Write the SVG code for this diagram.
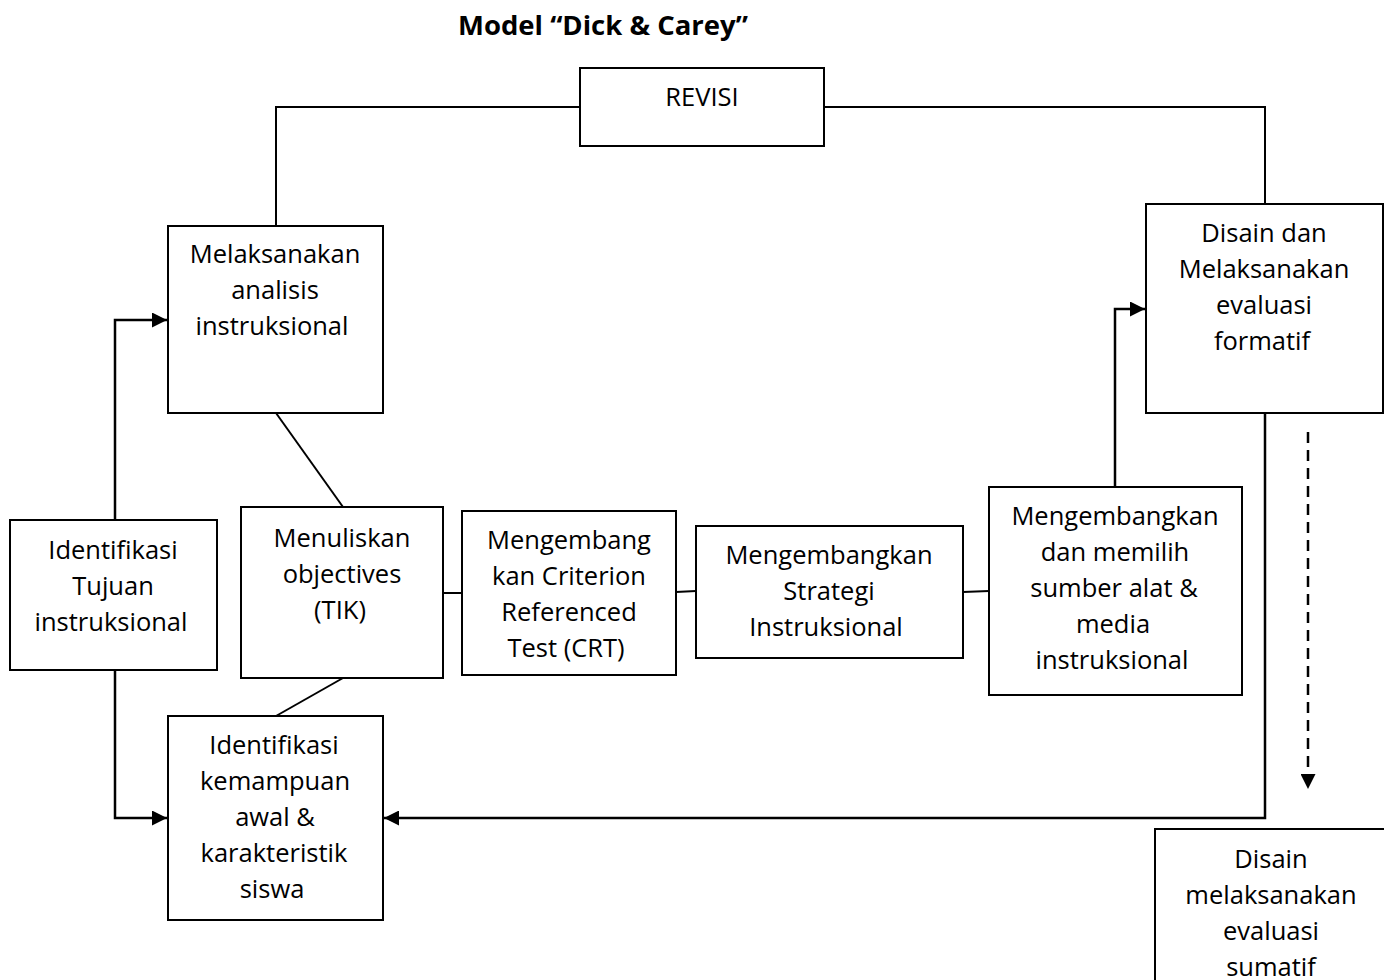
<svg xmlns="http://www.w3.org/2000/svg" width="1384" height="980" viewBox="0 0 1384 980">
  <style>
    .box { fill: #ffffff; stroke: #000000; stroke-width: 2; }
    .lbl { font-family: "Open Sans", "Liberation Sans", sans-serif; font-size: 25.5px; fill: #000000; text-anchor: middle; }
    .title { font-family: "Open Sans", "Liberation Sans", sans-serif; font-size: 27.5px; font-weight: bold; fill: #000000; text-anchor: middle; }
    .ln { fill: none; stroke: #000000; stroke-width: 2; }
    .arr { fill: none; stroke: #000000; stroke-width: 2.5; }
    .dash { fill: none; stroke: #000000; stroke-width: 2.5; stroke-dasharray: 11 7; }
  </style>
  <defs>
    <marker id="head" viewBox="0 0 10 10" refX="10" refY="5" markerWidth="6" markerHeight="6" markerUnits="strokeWidth" orient="auto">
      <path d="M0,0 L10,5 L0,10 Z" fill="#000000"/>
    </marker>
  </defs>

  <text class="title" x="603" y="35">Model “Dick &amp; Carey”</text>

  <!-- connectors -->
  <g id="connectors">
    <polyline class="ln" points="580,107 276,107 276,226"/>
    <polyline class="ln" points="824,107 1265,107 1265,204"/>
    <line class="ln" x1="276" y1="413" x2="343" y2="507"/>
    <line class="ln" x1="343" y1="678" x2="276" y2="716"/>
    <line class="ln" x1="443" y1="593" x2="462" y2="593"/>
    <line class="ln" x1="676" y1="592" x2="696" y2="591"/>
    <line class="ln" x1="963" y1="592" x2="989" y2="591"/>
    <polyline class="arr" points="115,520 115,320 167,320" marker-end="url(#head)"/>
    <polyline class="arr" points="115,670 115,818 167,818" marker-end="url(#head)"/>
    <polyline class="arr" points="1115,487 1115,309 1145,309" marker-end="url(#head)"/>
    <polyline class="arr" points="1265,413 1265,818 384,818" marker-end="url(#head)"/>
    <line class="dash" x1="1308" y1="432" x2="1308" y2="789" marker-end="url(#head)"/>
  </g>

  <g id="revisi">
    <rect class="box" x="580" y="68" width="244" height="78"/>
    <text class="lbl" x="702" y="106">REVISI</text>
  </g>

  <g id="analisis">
    <rect class="box" x="168" y="226" width="215" height="187"/>
    <text class="lbl" x="275" y="263">Melaksanakan</text>
    <text class="lbl" x="275" y="299">analisis</text>
    <text class="lbl" x="272" y="335">instruksional</text>
  </g>

  <g id="formatif">
    <rect class="box" x="1146" y="204" width="237" height="209"/>
    <text class="lbl" x="1264" y="242">Disain dan</text>
    <text class="lbl" x="1264" y="278">Melaksanakan</text>
    <text class="lbl" x="1264" y="314">evaluasi</text>
    <text class="lbl" x="1262" y="350">formatif</text>
  </g>

  <g id="tujuan">
    <rect class="box" x="10" y="520" width="207" height="150"/>
    <text class="lbl" x="113" y="559">Identifikasi</text>
    <text class="lbl" x="113" y="595">Tujuan</text>
    <text class="lbl" x="111" y="631">instruksional</text>
  </g>

  <g id="objectives">
    <rect class="box" x="241" y="507" width="202" height="171"/>
    <text class="lbl" x="342" y="547">Menuliskan</text>
    <text class="lbl" x="342" y="583">objectives</text>
    <text class="lbl" x="340" y="619">(TIK)</text>
  </g>

  <g id="crt">
    <rect class="box" x="462" y="511" width="214" height="164"/>
    <text class="lbl" x="569" y="549">Mengembang</text>
    <text class="lbl" x="569" y="585">kan Criterion</text>
    <text class="lbl" x="569" y="621">Referenced</text>
    <text class="lbl" x="566" y="657">Test (CRT)</text>
  </g>

  <g id="strategi">
    <rect class="box" x="696" y="526" width="267" height="132"/>
    <text class="lbl" x="829" y="564">Mengembangkan</text>
    <text class="lbl" x="829" y="600">Strategi</text>
    <text class="lbl" x="826" y="636">Instruksional</text>
  </g>

  <g id="media">
    <rect class="box" x="989" y="487" width="253" height="208"/>
    <text class="lbl" x="1115" y="525">Mengembangkan</text>
    <text class="lbl" x="1115" y="561">dan memilih</text>
    <text class="lbl" x="1114" y="597">sumber alat &amp;</text>
    <text class="lbl" x="1113" y="633">media</text>
    <text class="lbl" x="1112" y="669">instruksional</text>
  </g>

  <g id="kemampuan">
    <rect class="box" x="168" y="716" width="215" height="204"/>
    <text class="lbl" x="274" y="754">Identifikasi</text>
    <text class="lbl" x="275" y="790">kemampuan</text>
    <text class="lbl" x="275" y="826">awal &amp;</text>
    <text class="lbl" x="274" y="862">karakteristik</text>
    <text class="lbl" x="272" y="898">siswa</text>
  </g>

  <g id="sumatif">
    <rect class="box" x="1155" y="829" width="240" height="200"/>
    <text class="lbl" x="1271" y="868">Disain</text>
    <text class="lbl" x="1271" y="904">melaksanakan</text>
    <text class="lbl" x="1271" y="940">evaluasi</text>
    <text class="lbl" x="1271" y="976">sumatif</text>
  </g>
</svg>
